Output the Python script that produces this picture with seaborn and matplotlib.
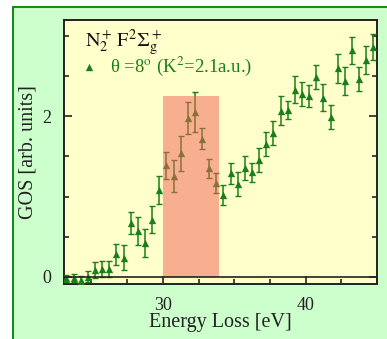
import numpy as np
import pandas as pd
import matplotlib
matplotlib.use("Agg")
import matplotlib.pyplot as plt
from matplotlib.patches import Rectangle
from matplotlib.lines import Line2D
from matplotlib.ticker import MultipleLocator, FixedLocator
import seaborn as sns

# ---- data ----
energy = [23.25, 23.75, 24.25, 24.75, 25.25, 25.75, 26.25, 26.75, 27.25, 27.75,
          28.25, 28.75, 29.25, 29.75, 30.25, 30.75, 31.25, 31.75, 32.25, 32.75,
          33.25, 33.75, 34.25, 34.75, 35.25, 35.75, 36.25, 36.75, 37.25, 37.75,
          38.25, 38.75, 39.25, 39.75, 40.25, 40.75, 41.25, 41.75, 42.25, 42.75,
          43.25, 43.75, 44.25, 44.75]
gos = [-0.02, -0.01, -0.04, 0.00, 0.09, 0.10, 0.10, 0.28, 0.24, 0.67,
       0.57, 0.42, 0.71, 1.08, 1.39, 1.26, 1.54, 1.98, 2.05, 1.72,
       1.35, 1.17, 1.02, 1.29, 1.16, 1.35, 1.30, 1.46, 1.65, 1.79,
       2.07, 2.08, 2.33, 2.28, 2.25, 2.49, 2.23, 1.99, 2.60, 2.44,
       2.82, 2.47, 2.70, 2.86]
gos_err = [0.04, 0.05, 0.05, 0.07, 0.10, 0.10, 0.10, 0.13, 0.15, 0.14,
           0.17, 0.17, 0.17, 0.17, 0.17, 0.20, 0.22, 0.20, 0.25, 0.13,
           0.12, 0.12, 0.12, 0.13, 0.15, 0.15, 0.12, 0.15, 0.15, 0.15,
           0.18, 0.11, 0.17, 0.15, 0.14, 0.15, 0.17, 0.15, 0.18, 0.18,
           0.17, 0.15, 0.17, 0.16]
band_x = [30.0, 33.9]
band_top = 2.25
xlabel = "Energy Loss [eV]"
ylabel = "GOS [arb. units]"
legend_title = r"$\mathrm{N}_2^+\,\mathrm{F}^2\Sigma_\mathrm{g}^+$"
series_label = "θ =8$^{\\mathrm{o}}$ (K$^2$=2.1a.u.)"

df = pd.DataFrame({"energy": energy, "gos": gos, "err": gos_err})

sns.set_style("ticks")
plt.rcParams["font.family"] = ["Liberation Serif", "DejaVu Serif"]
plt.rcParams["mathtext.fontset"] = "stix"

green = "#1a7f1a"
W, H = 387, 339

fig = plt.figure(figsize=(3.87, 3.39), dpi=100)
fig.patch.set_facecolor("white")
# green panel (fill only, running past the right and bottom edges) + top/left border
fig.patches.append(Rectangle((13 / W, -0.2), 1.2, 1.2 - 7 / H,
                             transform=fig.transFigure, facecolor="#ccffcc",
                             edgecolor="none", zorder=-10))
fig.lines.append(Line2D([13 / W, 1.1], [1 - 7 / H, 1 - 7 / H], transform=fig.transFigure,
                        color="#1a8a1a", linewidth=1.5))
fig.lines.append(Line2D([13 / W, 13 / W], [-0.1, 1 - 7 / H], transform=fig.transFigure,
                        color="#1a8a1a", linewidth=1.5))

ax = fig.add_axes([64 / W, 1 - 284 / H, (377 - 64) / W, (284 - 20) / H])
ax.set_facecolor("#ffffcc")

ax.errorbar(df["energy"], df["gos"], yerr=df["err"], fmt="none",
            ecolor=green, elinewidth=1.1, capsize=2, capthick=1.0, zorder=3)
sns.scatterplot(data=df, x="energy", y="gos", marker="^", color=green,
                s=28, edgecolor=green, linewidth=0, ax=ax, zorder=4,
                label=series_label)

ax.fill_between(band_x, [0, 0], [band_top, band_top], color="#f3665a",
                alpha=0.52, linewidth=0, zorder=5)
ax.axhline(0, color="#222222", linewidth=1.2, zorder=6)

ax.set_xlim(23.08, 45.0)
ax.set_ylim(-0.09, 3.2)
ax.xaxis.set_major_locator(FixedLocator([30, 40]))
ax.xaxis.set_minor_locator(MultipleLocator(2.5))
ax.yaxis.set_major_locator(FixedLocator([0, 2]))
ax.yaxis.set_minor_locator(MultipleLocator(0.5))
ax.tick_params(axis="both", which="both", direction="in", colors="#222222",
               labelcolor="#222222", labelsize=13, right=True)
ax.tick_params(which="major", length=6, width=1.2, pad=9)
ax.tick_params(which="minor", length=3.5, width=1.2)
for s in ax.spines.values():
    s.set_linewidth(1.4)
    s.set_color("#222222")

ax.set_xlabel(xlabel, fontsize=14.5, color="#222222", labelpad=0)
ax.set_ylabel(ylabel, fontsize=14.5, color="#222222")
ax.yaxis.set_label_coords(-(64 - 38) / (377 - 64), 0.5)

leg = ax.legend(title=legend_title, loc="upper left", frameon=False,
                alignment="left", fontsize=13.5, title_fontsize=14.5,
                handletextpad=0.95, handlelength=0.4, borderpad=0.0,
                borderaxespad=0.0, labelspacing=0.1,
                bbox_to_anchor=(21 / (377 - 64), 1 - 7 / (284 - 20)))
leg._legend_box.sep = -2
for t in leg.get_texts():
    t.set_color(green)
leg.get_title().set_color("#111111")

fig.savefig("out.png", dpi=100, facecolor=fig.get_facecolor())
